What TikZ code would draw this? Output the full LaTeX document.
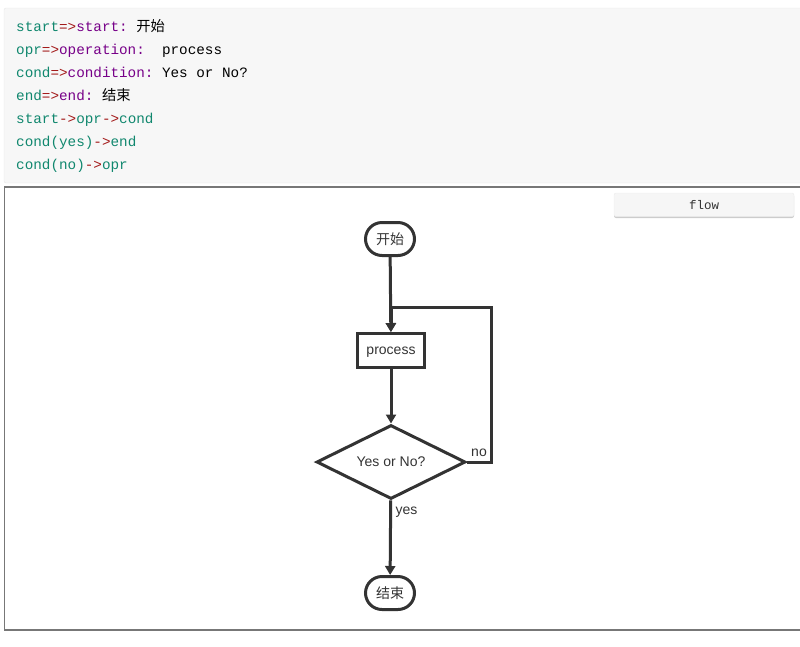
\documentclass[tikz,border=0pt]{standalone}
\usepackage{fontspec}
\setmainfont{Liberation Sans}
\setmonofont{Liberation Mono}
\newfontfamily\cjk{Noto Sans CJK SC}
\usetikzlibrary{arrows.meta,shapes.geometric}
\definecolor{cvarc}{HTML}{10876E}
\definecolor{copc}{HTML}{A31A1A}
\definecolor{ckwc}{HTML}{770088}
\definecolor{ink}{HTML}{333333}
\definecolor{codebg}{HTML}{F7F7F7}
\definecolor{codeedge}{HTML}{E6E6E6}
\definecolor{paneledge}{HTML}{777777}
\definecolor{btnbg}{HTML}{F6F6F6}
\definecolor{btnedge}{HTML}{ECECEC}
\definecolor{btnshade}{HTML}{CCCCCC}
\newcommand\cvar[1]{\textcolor{cvarc}{#1}}
\newcommand\cop[1]{\textcolor{copc}{#1}}
\newcommand\ckw[1]{\textcolor{ckwc}{#1}}
\tikzset{
  codeline/.style={anchor=base west, inner sep=0pt, font=\fontsize{14.3}{17}\ttfamily},
  terminal/.style={draw=ink, line width=3pt, rectangle, rounded corners=16.5pt,
    minimum width=49pt, minimum height=33pt, inner sep=0pt, text height=12pt, text depth=1pt,
    font=\fontsize{14}{16}\cjk, text=ink},
  opbox/.style={draw=ink, line width=3pt, rectangle, minimum width=67pt,
    minimum height=34pt, inner sep=0pt, text height=10pt, text depth=3pt,
    font=\fontsize{14}{16}\selectfont, text=ink},
  decision/.style={draw=ink, line width=3pt, diamond, aspect=2, minimum width=149pt,
    minimum height=74pt, inner sep=0pt, text height=11pt, text depth=2pt,
    font=\fontsize{14}{16}\selectfont, text=ink},
  flowline/.style={draw=ink, line width=3pt, -{Triangle[length=9pt,width=10pt]}},
  edgelabel/.style={inner sep=0pt, text height=10pt, text depth=3pt,
    font=\fontsize{14}{16}\selectfont, text=ink}
}
\begin{document}
\begin{tikzpicture}[x=1pt,y=-1pt]
    \useasboundingbox (0,0) rectangle (800,646);

    % code block
    \draw[fill=codebg, draw=codeedge, rounded corners=2pt] (4,8) rectangle (806,183);
    \node[codeline] (l1) at (16,31) {\cvar{start}\cop{=>}\ckw{start:} {\cjk 开始}};
    \node[codeline] (l2) at (16,54) {\cvar{opr}\cop{=>}\ckw{operation:}\ \ process};
    \node[codeline] (l3) at (16,77) {\cvar{cond}\cop{=>}\ckw{condition:} Yes or No?};
    \node[codeline] (l4) at (16,100) {\cvar{end}\cop{=>}\ckw{end:} {\cjk 结束}};
    \node[codeline] (l5) at (16,123) {\cvar{start}\cop{->}\cvar{opr}\cop{->}\cvar{cond}};
    \node[codeline] (l6) at (16,146) {\cvar{cond(yes)}\cop{->}\cvar{end}};
    \node[codeline] (l7) at (16,169) {\cvar{cond(no)}\cop{->}\cvar{opr}};

    % output panel
    \draw[draw=paneledge, line width=1.2pt] (4.5,187) rectangle (806,630);
    \fill[btnshade, rounded corners=2pt] (614,194) rectangle (794,218);
    \draw[fill=btnbg, draw=btnedge, rounded corners=2pt] (614,193) rectangle (794,216.5);
    \node[inner sep=0pt, font=\fontsize{12.5}{14}\ttfamily, text=ink] (btn) at (704,205) {flow};

    % flowchart
    \node[terminal] (start) at (390,239) {开始};
    \node[opbox] (opr) at (391,350.5) {process};
    \node[decision] (cond) at (391,462) {Yes or No?};
    \node[terminal] (stop) at (390,593) {结束};

    \coordinate (loopr) at (491,307);
    \coordinate (loopl) at (opr.north |- loopr);

    \draw[flowline] (start) -- (opr);
    \draw[flowline] (opr) -- (cond);
    \draw[flowline] (cond) -- (stop);
    \draw[flowline, line join=miter] (cond.east) -| (loopr) -- (loopl) -- (opr.north);

    \node[edgelabel] (nolab) at (479,453) {no};
    \node[edgelabel] (yeslab) at (406.5,511) {yes};
\end{tikzpicture}
\end{document}
